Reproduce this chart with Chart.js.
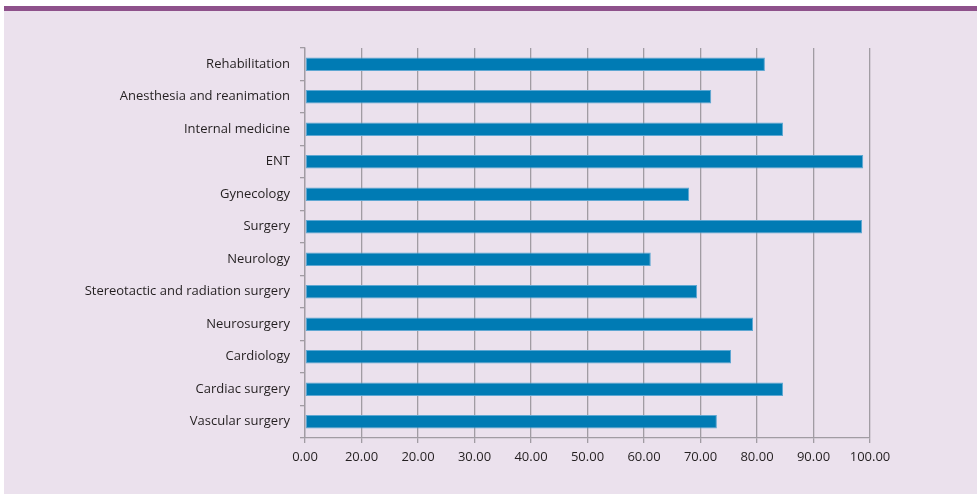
<!DOCTYPE html>
<html>
<head>
<meta charset="utf-8">
<script src="https://cdn.jsdelivr.net/npm/chart.js@4"></script>
<style>
  html, body { margin: 0; padding: 0; background: #fff; }
  body { width: 977px; height: 494px; position: relative; overflow: hidden; }
  .topbar { position: absolute; left: 4px; top: 6px; width: 973px; height: 5px; background: #8e518b; }
  .panel { position: absolute; left: 4px; top: 11px; width: 973px; height: 483px; background: #ebe1ed; }
  canvas { display: block; }
</style>
</head>
<body>
<div class="topbar"></div>
<div class="panel"><canvas id="chart" width="973" height="483"></canvas></div>
<script>
// departments, top to bottom as in the reference
const departments = [
  'Rehabilitation', 'Anesthesia and reanimation', 'Internal medicine', 'ENT',
  'Gynecology', 'Surgery', 'Neurology', 'Stereotactic and radiation surgery',
  'Neurosurgery', 'Cardiology', 'Cardiac surgery', 'Vascular surgery'
];
const scores = [81.4, 71.9, 84.6, 98.8, 68.0, 98.6, 61.2, 69.4, 79.3, 75.4, 84.6, 72.9];
// tick labels exactly as printed (the second one repeats 20.00)
const tickLabels = ['0.00', '20.00', '20.00', '30.00', '40.00', '50.00', '60.00', '70.00', '80.00', '90.00', '100.00'];

const font = { family: "'Open Sans', 'Noto Sans', sans-serif", size: 13 };
const gridGray = '#a19ca3';

new Chart(document.getElementById('chart'), {
  type: 'bar',
  data: {
    labels: departments,
    datasets: [{
      data: scores,
      backgroundColor: '#007bb4',
      borderColor: '#5ea7d2',
      borderWidth: 1,
      borderSkipped: false,
      barPercentage: 0.41,
      categoryPercentage: 1.0
    }]
  },
  options: {
    indexAxis: 'y',
    responsive: false,
    animation: false,
    layout: { padding: { top: 37, right: 107, bottom: 0, left: 0 } },
    plugins: { legend: { display: false }, tooltip: { enabled: false } },
    scales: {
      x: {
        min: 0, max: 100,
        ticks: {
          stepSize: 10, color: '#231f20', font, padding: 6,
          maxRotation: 0,
          callback: (v, i) => tickLabels[i]
        },
        grid: { color: gridGray, lineWidth: 1.3, tickLength: 5 },
        border: { color: gridGray, width: 1.3 },
        afterFit: s => { s.height = 56; }
      },
      y: {
        ticks: { color: '#231f20', font, padding: 10 },
        grid: { offset: true, drawOnChartArea: false, color: gridGray, lineWidth: 1.3, tickLength: 5 },
        border: { color: gridGray, width: 1.3 },
        afterFit: s => { s.width = 301; }
      }
    }
  }
});
</script>
</body>
</html>
